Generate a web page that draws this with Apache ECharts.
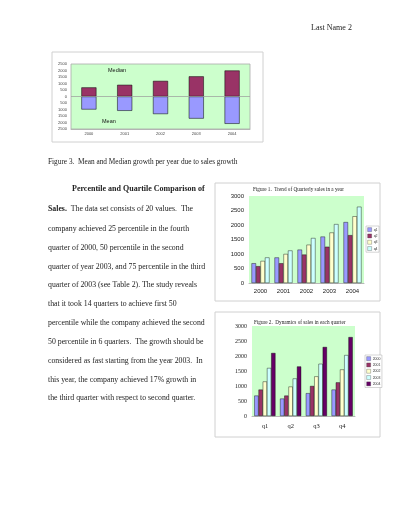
<!DOCTYPE html>
<html>
<head>
<meta charset="utf-8">
<script src="https://cdn.jsdelivr.net/npm/echarts@6/dist/echarts.min.js"></script>
<style>
  html, body { margin: 0; padding: 0; background: #fff; }
  #page { width: 400px; height: 517px; }
</style>
</head>
<body>
<div id="page"></div>
<script>
// data
var years = ['2000', '2001', '2002', '2003', '2004'];
var quarters = ['q1', 'q2', 'q3', 'q4'];
var medianVals = [700, 900, 1200, 1550, 2000];
var meanVals = [-1000, -1100, -1350, -1700, -2100];
// quarterly sales, one array per year (q1..q4)
var sales2000 = [680, 580, 760, 880];
var sales2001 = [880, 680, 1000, 1120];
var sales2002 = [1150, 980, 1320, 1550];
var sales2003 = [1600, 1250, 1740, 2030];
var sales2004 = [2100, 1650, 2300, 2630];
var yearTicks = [-2500, 2500, 500];
var salesTicks = [0, 3000, 500];

var byYear = [sales2000, sales2001, sales2002, sales2003, sales2004];
var qColors = ['#9999ff', '#993366', '#ffffcc', '#ccffff'];
var yColors = ['#9999ff', '#993366', '#ffffcc', '#ccffff', '#660066'];

var chart = echarts.init(document.getElementById('page'));

var serif = '"Liberation Serif", "Times New Roman", serif';
var sans = '"Liberation Sans", Arial, sans-serif';
var ink = '#222';

// document text lines
var bodyLines = [
    ['{b|Sales.}  The data set consists of 20 values.  The', 209],
    ['company achieved 25 percentile in the fourth', 229],
    ['quarter of 2000, 50 percentile in the second', 248],
    ['quarter of year 2003, and 75 percentile in the third', 267],
    ['quarter of 2003 (see Table 2). The study reveals', 285],
    ['that it took 14 quarters to achieve first 50', 304],
    ['percentile while the company achieved the second', 323],
    ['50 percentile in 6 quarters.  The growth should be', 342],
    ['considered as fast starting from the year 2003.  In', 361],
    ['this year, the company achieved 17% growth in', 380],
    ['the third quarter with respect to second quarter.', 398]
];

var graphics = [
    // chart frames
    {type: 'rect', shape: {x: 52, y: 52, width: 211, height: 90}, style: {fill: 'none', stroke: '#d0d0d0', lineWidth: 1}, z: 0},
    {type: 'rect', shape: {x: 215, y: 183, width: 165, height: 118}, style: {fill: 'none', stroke: '#d0d0d0', lineWidth: 1}, z: 0},
    {type: 'rect', shape: {x: 215, y: 312, width: 165, height: 125}, style: {fill: 'none', stroke: '#d0d0d0', lineWidth: 1}, z: 0},
    {type: 'text', left: 311, top: 24, style: {text: 'Last Name 2', font: '8px ' + serif, fill: ink}},
    {type: 'text', left: 108, top: 67, z: 10, style: {text: 'Median', font: '5.5px ' + sans, fill: '#111'}},
    {type: 'text', left: 102, top: 118, z: 10, style: {text: 'Mean', font: '5.5px ' + sans, fill: '#111'}},
    {type: 'text', left: 48, top: 159, style: {text: 'Figure 3.  Mean and Median growth per year due to sales growth', font: '7.3px ' + serif, fill: ink}},
    {type: 'text', left: 253, top: 187, z: 10, style: {text: 'Figure 1.  Trend of Quarterly sales in a year', font: '5.2px ' + serif, fill: ink}},
    {type: 'text', left: 254, top: 320, z: 10, style: {text: 'Figure 2.  Dynamics of sales in each quarter', font: '5.2px ' + serif, fill: ink}},
    {type: 'text', left: 72, top: 185, style: {text: 'Percentile and Quartile Comparison of', font: 'bold 8px ' + serif, fill: ink}}
];
bodyLines.forEach(function (line) {
    graphics.push({
        type: 'text', left: 48, top: line[1] - 4,
        style: {
            text: line[0], font: '7.8px ' + serif, fill: ink,
            rich: {b: {fontWeight: 'bold', fontSize: 7.8, fontFamily: serif, fill: ink}}
        }
    });
});

var series = [
    {
        name: 'Median', type: 'bar', xAxisIndex: 0, yAxisIndex: 0, stack: 'mm',
        barWidth: '42%', data: medianVals,
        itemStyle: {color: '#993366', borderColor: '#000', borderWidth: 0.5},
        markLine: {
            silent: true, symbol: 'none', label: {show: false},
            lineStyle: {color: '#999', type: 'solid', width: 0.7},
            data: [{yAxis: 0}]
        }
    },
    {
        name: 'Mean', type: 'bar', xAxisIndex: 0, yAxisIndex: 0, stack: 'mm',
        barWidth: '42%', data: meanVals,
        itemStyle: {color: '#9999ff', borderColor: '#000', borderWidth: 0.5}
    }
];
quarters.forEach(function (q, qi) {
    series.push({
        name: q, type: 'bar', xAxisIndex: 1, yAxisIndex: 1,
        barGap: '0%', barCategoryGap: '22%',
        data: byYear.map(function (arr) { return arr[qi]; }),
        itemStyle: {color: qColors[qi], borderColor: '#000', borderWidth: 0.4}
    });
});
years.forEach(function (y, yi) {
    series.push({
        name: y, type: 'bar', xAxisIndex: 2, yAxisIndex: 2,
        barGap: '0%', barCategoryGap: '18%',
        data: byYear[yi],
        itemStyle: {color: yColors[yi], borderColor: '#000', borderWidth: 0.4}
    });
});

var legendBase = {
    orient: 'vertical', icon: 'rect',
    itemWidth: 4, itemHeight: 4, itemGap: 2, padding: 1.5,
    borderColor: '#aaa', borderWidth: 0.5, backgroundColor: '#fff',
    itemStyle: {borderColor: '#333', borderWidth: 0.3},
    textStyle: {fontSize: 3.5, fontFamily: sans, color: '#333', padding: [0, 0, 0, -3]}
};

var options = {
    animation: false,
    backgroundColor: '#fff',
    graphic: graphics,
    grid: [
        {left: 71, top: 64, width: 179, height: 65, show: true, backgroundColor: '#ccffcc', borderColor: '#aaa', borderWidth: 0.8},
        {left: 249, top: 196, width: 115, height: 87, show: true, backgroundColor: '#ccffcc', borderWidth: 0},
        {left: 252, top: 326, width: 103, height: 90, show: true, backgroundColor: '#ccffcc', borderWidth: 0}
    ],
    legend: [
        Object.assign({data: quarters, left: 366, top: 226}, legendBase),
        Object.assign({data: years, left: 365, top: 355}, legendBase)
    ],
    xAxis: [
        {
            type: 'category', gridIndex: 0, data: years,
            axisLine: {onZero: false, lineStyle: {color: '#aaa', width: 0.8}},
            axisTick: {show: false},
            axisLabel: {fontSize: 4, fontFamily: sans, color: '#444', margin: 3}
        },
        {
            type: 'category', gridIndex: 1, data: years,
            axisLine: {lineStyle: {color: '#888', width: 0.6}},
            axisTick: {show: false},
            axisLabel: {fontSize: 6, fontFamily: sans, color: '#222', margin: 5}
        },
        {
            type: 'category', gridIndex: 2, data: quarters,
            axisLine: {lineStyle: {color: '#888', width: 0.6}},
            axisTick: {show: false},
            axisLabel: {fontSize: 6.5, fontFamily: serif, color: '#222', margin: 7}
        }
    ],
    yAxis: [
        {
            type: 'value', gridIndex: 0, min: yearTicks[0], max: yearTicks[1], interval: yearTicks[2],
            axisLine: {show: false}, axisTick: {show: false}, splitLine: {show: false},
            axisLabel: {
                fontSize: 4, fontFamily: sans, color: '#444', margin: 4,
                formatter: function (v) { return String(Math.abs(v)); }
            }
        },
        {
            type: 'value', gridIndex: 1, min: salesTicks[0], max: salesTicks[1], interval: salesTicks[2],
            axisLine: {show: false}, axisTick: {show: false}, splitLine: {show: false},
            axisLabel: {fontSize: 6, fontFamily: sans, color: '#222', margin: 5,
                formatter: function (v) { return String(v); }}
        },
        {
            type: 'value', gridIndex: 2, min: salesTicks[0], max: salesTicks[1], interval: salesTicks[2],
            axisLine: {show: false}, axisTick: {show: false}, splitLine: {show: false},
            axisLabel: {fontSize: 6, fontFamily: serif, color: '#222', margin: 5,
                formatter: function (v) { return String(v); }}
        }
    ],
    series: series
};

chart.setOption(options);
</script>
</body>
</html>
